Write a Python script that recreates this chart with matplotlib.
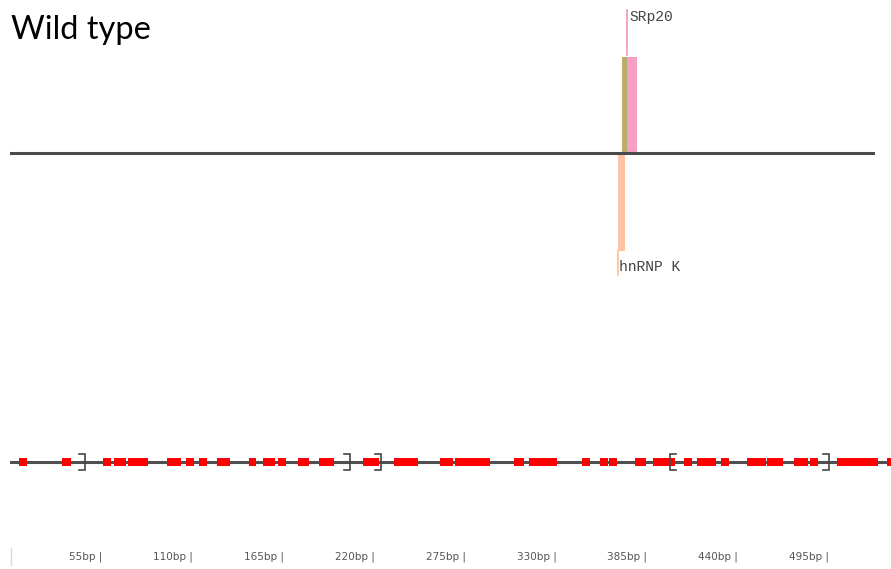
import matplotlib
matplotlib.use("Agg")
import matplotlib.pyplot as plt

# ---------------- data ----------------
# binding sites (bp start, bp end, score; positive = above line, negative = below)
site_names = ["olive", "SRp20", "hnRNP K"]
site_start = [370.6, 373.3, 367.9]
site_end = [373.3, 379.3, 372.5]
site_score = [96, 96, -98]
site_colors = ["#b9ae6a", "#f7a0c4", "#fdc3a4"]
label_names = ["SRp20", "hnRNP K"]
label_pos = [373.3, 368.4]
seq_len_top = 522.4

# red segments on the lower track (bp)
seg_start = [5.3, 31.4, 56.2, 62.9, 71.3, 94.9, 106.4, 114.3, 125.2, 144.6, 153.1,
             162.1, 174.3, 187.0, 213.6, 232.4, 260.2, 269.3, 305.0, 314.1, 346.2,
             357.1, 362.6, 378.3, 389.2, 408.0, 415.8, 430.4, 446.1, 458.2, 474.6,
             484.3, 500.6, 530.9]
seg_end = [10.2, 36.8, 61.0, 70.1, 83.4, 103.4, 111.3, 119.2, 133.1, 148.8, 160.3,
           167.0, 180.9, 196.1, 223.3, 246.9, 268.1, 290.5, 311.1, 331.1, 351.1,
           361.9, 367.4, 384.9, 402.5, 412.8, 427.3, 435.2, 457.6, 467.9, 483.0,
           489.1, 525.4, 536.0]
# brackets: position and direction ('R' = "]", 'L' = "[")
bracket_pos = [45.3, 205.7, 224.5, 399.5, 495.8]
bracket_dir = ["R", "R", "R", "L", "R"]

tick_vals = [55, 110, 165, 220, 275, 330, 385, 440, 495]
tick_labels = [f"{v}bp |" for v in tick_vals]

W, H = 891, 569
XMIN, XMAX = -6.18, 533.3
fig = plt.figure(figsize=(W / 100, H / 100), dpi=100)

# ---------------- top panel ----------------
top_h = 290
ax1 = fig.add_axes([0, 1 - top_h / H, 1, top_h / H])
ax1.set_xlim(XMIN, XMAX)
ax1.set_ylim(-(top_h - 153), 153)
ax1.axis("off")

for s, e, sc, c in zip(site_start, site_end, site_score, site_colors):
    ax1.bar(s, sc, width=e - s, align="edge", color=c, linewidth=0, zorder=2)
ax1.plot([0.5, seq_len_top], [0, 0], color="#4a4a4a", lw=2.2, zorder=3)

# label leader lines
ax1.plot([label_pos[0], label_pos[0]], [98, 143], color="#f48cb4", lw=1.1)
ax1.text(label_pos[0] + 1.5, 135.5, label_names[0], family="Liberation Mono",
         fontsize=10.5, color="#444444", va="center", ha="left")
ax1.plot([label_pos[1] - 0.3, label_pos[1] - 0.3], [-98, -122], color="#fdc3a4", lw=1.3)
ax1.text(label_pos[1] + 0.5, -114, label_names[1], family="Liberation Mono",
         fontsize=10.5, color="#444444", va="center", ha="left")

fig.text(11 / W, 1 - 30 / H, "Wild type", family="Lato", fontsize=23.5,
         color="black", va="center", ha="left")

# ---------------- bottom panel ----------------
bot_top = 300
ax2 = fig.add_axes([0, 0, 1, (H - bot_top) / H])
ax2.set_xlim(XMIN, XMAX)
ax2.set_ylim(-(H - 462), 462 - bot_top)
ax2.axis("off")

ax2.plot([0.5, XMAX + 5], [0, 0], color="#505050", lw=2.2, zorder=1)
for s, e in zip(seg_start, seg_end):
    ax2.bar(s, 8, width=e - s, bottom=-4, align="edge", color="#ff0000",
            linewidth=0, zorder=2)

tick_len = 3.4
for p, d in zip(bracket_pos, bracket_dir):
    sgn = -1 if d == "R" else 1
    ax2.plot([p + sgn * tick_len, p, p, p + sgn * tick_len], [8, 8, -8, -8],
             color="#454545", lw=1.2, zorder=3, solid_joinstyle="miter")

for v, lab in zip(tick_vals, tick_labels):
    ax2.text(v + 0.8, -95, lab, ha="right", va="center", fontsize=7.5,
             color="#555555", family="DejaVu Sans", fontweight="medium")
ax2.plot([0.5, 0.5], [-86, -103], color="#d8d8d8", lw=1)

fig.savefig("out.png", dpi=100)
